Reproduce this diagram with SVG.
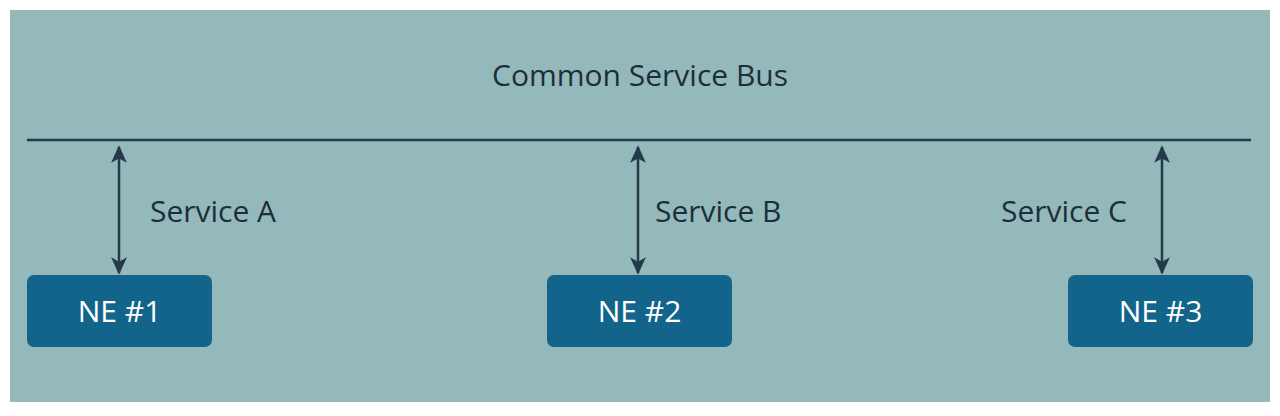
<svg xmlns="http://www.w3.org/2000/svg" width="1280" height="416" viewBox="0 0 1280 416">
<defs>
<style>
.t{font-family:"Open Sans","Noto Sans",sans-serif;font-size:30px;fill:#1c2e3b}
.n{font-family:"Open Sans","Noto Sans",sans-serif;font-size:30px;fill:#ffffff;text-anchor:middle}
.box{fill:#13648b}
.c{stroke:#233a4b;stroke-width:2.5;fill:none}
</style>
<marker id="ah" viewBox="0 0 20 20" refX="18" refY="10" markerWidth="7" markerHeight="7" orient="auto-start-reverse" markerUnits="strokeWidth">
<path d="M0,1 L20,10 L0,19 L5,10 Z" fill="#233a4b"/>
</marker>
</defs>
<rect width="1280" height="416" fill="#ffffff"/>
<rect x="10" y="10" width="1260" height="392" fill="#94b9bb"/>
<text class="t" x="640" y="86" text-anchor="middle">Common Service Bus</text>
<g id="connectors">
<line class="c" x1="27" y1="140" x2="1251" y2="140"/>
<line class="c" x1="119" y1="147" x2="119" y2="273" marker-start="url(#ah)" marker-end="url(#ah)"/>
<line class="c" x1="638" y1="147" x2="638" y2="273" marker-start="url(#ah)" marker-end="url(#ah)"/>
<line class="c" x1="1162" y1="147" x2="1162" y2="273" marker-start="url(#ah)" marker-end="url(#ah)"/>
<text class="t" x="150" y="222">Service A</text>
<text class="t" x="655" y="222">Service B</text>
<text class="t" x="1001" y="222">Service C</text>
</g>
<g id="ne1"><rect class="box" x="27" y="275" width="185" height="72" rx="7"/><text class="n" x="119.5" y="322">NE #1</text></g>
<g id="ne2"><rect class="box" x="547" y="275" width="185" height="72" rx="7"/><text class="n" x="639.5" y="322">NE #2</text></g>
<g id="ne3"><rect class="box" x="1068" y="275" width="185" height="72" rx="7"/><text class="n" x="1160.5" y="322">NE #3</text></g>
</svg>
